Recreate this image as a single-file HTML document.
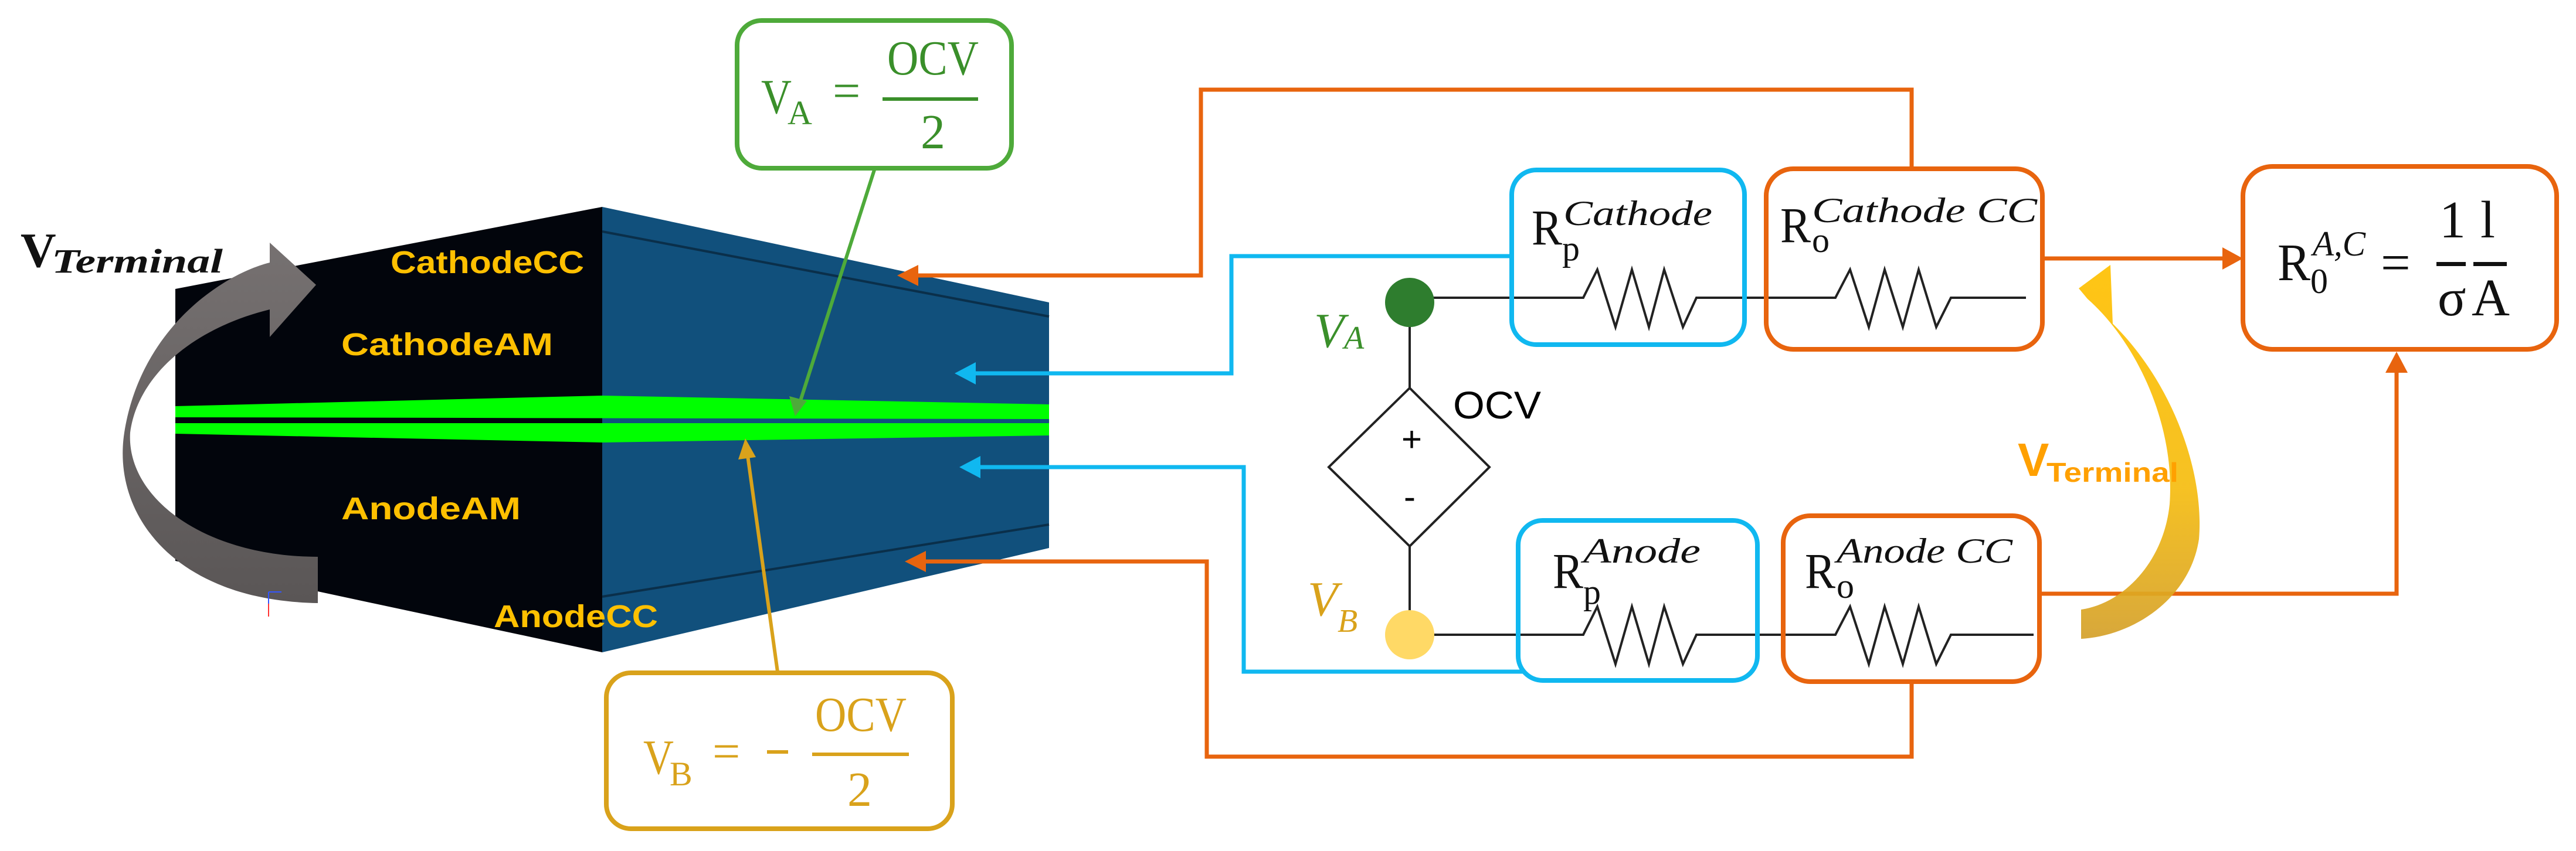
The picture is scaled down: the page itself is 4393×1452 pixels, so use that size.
<!DOCTYPE html>
<html><head><meta charset="utf-8"><style>html,body{margin:0;padding:0;background:#fff}svg{display:block}</style></head>
<body>
<svg xmlns="http://www.w3.org/2000/svg" width="4393" height="1452" viewBox="0 0 4393 1452">
<defs>
<linearGradient id="yg" x1="0" y1="0" x2="0" y2="1"><stop offset="0" stop-color="#FFC000"/><stop offset="0.6" stop-color="#F5BC10"/><stop offset="1" stop-color="#D4A02A"/></linearGradient>
<linearGradient id="gg" x1="0" y1="0" x2="0" y2="1"><stop offset="0" stop-color="#767171"/><stop offset="1" stop-color="#5a5656"/></linearGradient>
</defs>
<!-- battery block -->
<polygon points="299,493 1027,353 1027,1113 299,957" fill="#02050c"/>
<polygon points="1027,353 1789,516 1789,935 1027,1113" fill="#11507c"/>
<line x1="1027" y1="395" x2="1789" y2="540" stroke="#0a2f4a" stroke-width="4"/>
<line x1="1027" y1="1018" x2="1789" y2="895" stroke="#0a2f4a" stroke-width="4"/>
<!-- green separator -->
<polygon points="299,693 1027,675 1789,690 1789,715 299,712" fill="#00FF00"/>
<polygon points="299,722 1789,722 1789,743 1027,755 299,740" fill="#00FF00"/>
<!-- labels -->
<g font-family="Liberation Sans, sans-serif" font-weight="bold" fill="#FFC000" font-size="54">
<text x="666" y="466" textLength="330" lengthAdjust="spacingAndGlyphs">CathodeCC</text>
<text x="582" y="606" textLength="361" lengthAdjust="spacingAndGlyphs">CathodeAM</text>
<text x="582" y="886" textLength="306" lengthAdjust="spacingAndGlyphs">AnodeAM</text>
<text x="842" y="1070" textLength="280" lengthAdjust="spacingAndGlyphs">AnodeCC</text>
</g>
<!-- grey arrow -->
<path d="M542,950 L542,1029 C300,1025 190,880 212,738 C240,560 380,468 460,448 L460,414 L539,486 L460,575 L460,528 C330,560 235,640 222,738 C215,850 350,950 542,950 Z" fill="url(#gg)"/>
<!-- axis mark -->
<path d="M458,1010 L458,1050 M458,1010 L480,1010" stroke="#3355ff" stroke-width="2" fill="none"/>
<line x1="458" y1="1030" x2="458" y2="1052" stroke="#ff3333" stroke-width="2"/>
<!-- V_terminal left -->
<text x="35" y="455" font-family="Liberation Serif, serif" font-weight="bold" font-size="84" fill="#111">V</text>
<text x="88" y="465" font-family="Liberation Serif, serif" font-style="italic" font-weight="bold" font-size="58" fill="#111" textLength="292" lengthAdjust="spacingAndGlyphs">Terminal</text>
<!-- VA box -->
<rect x="1257" y="35" width="468" height="252" rx="42" fill="#fff" stroke="#4EAA3A" stroke-width="8"/>
<g fill="#3A8F2A" font-family="Liberation Serif, serif">
<text x="1298" y="193" font-size="84" textLength="52" lengthAdjust="spacingAndGlyphs">V</text>
<text x="1343" y="212" font-size="58">A</text>
<text x="1420" y="183" font-size="84">=</text>
<text x="1513" y="127" font-size="84" textLength="156" lengthAdjust="spacingAndGlyphs">OCV</text>
<rect x="1505" y="166" width="163" height="6"/>
<text x="1570" y="253" font-size="84">2</text>
</g>
<line x1="1491" y1="290" x2="1363" y2="690" stroke="#4EAA3A" stroke-width="6"/>
<polygon points="1356,710 1346,676 1376,684" fill="#4EAA3A"/>
<!-- VB box -->
<rect x="1034" y="1148" width="590" height="266" rx="42" fill="#fff" stroke="#D9A21B" stroke-width="8"/>
<g fill="#D9A21B" font-family="Liberation Serif, serif">
<text x="1097" y="1320" font-size="84" textLength="52" lengthAdjust="spacingAndGlyphs">V</text>
<text x="1142" y="1340" font-size="58">B</text>
<text x="1215" y="1310" font-size="84">=</text>
<rect x="1308" y="1280" width="36" height="6"/>
<text x="1390" y="1247" font-size="84" textLength="156" lengthAdjust="spacingAndGlyphs">OCV</text>
<rect x="1385" y="1284" width="165" height="6"/>
<text x="1445" y="1375" font-size="84">2</text>
</g>
<line x1="1326" y1="1146" x2="1274" y2="770" stroke="#D9A21B" stroke-width="6"/>
<polygon points="1271,748 1259,784 1289,780" fill="#D9A21B"/>
<!-- orange connector top -->
<polyline points="3260,288 3260,153 2048,153 2048,470 1560,470" fill="none" stroke="#E8640E" stroke-width="7"/>
<polygon points="1530,470 1566,452 1566,488" fill="#E8640E"/>
<!-- blue cathode -->
<polyline points="2582,437 2100,437 2100,637 1660,637" fill="none" stroke="#10B8F0" stroke-width="7"/>
<polygon points="1628,637 1664,618 1664,656" fill="#10B8F0"/>
<!-- blue anode -->
<polyline points="2600,1146 2121,1146 2121,797 1668,797" fill="none" stroke="#10B8F0" stroke-width="7"/>
<polygon points="1636,797 1672,778 1672,816" fill="#10B8F0"/>
<!-- orange anode -->
<polyline points="3260,1163 3260,1291 2058,1291 2058,958 1575,958" fill="none" stroke="#E8640E" stroke-width="7"/>
<polygon points="1543,958 1579,940 1579,976" fill="#E8640E"/>
<!-- circuit wires -->
<g stroke="#222" stroke-width="4" fill="none">
<polyline points="2404,508 2700,508 2724,460 2755,558 2783,460 2812,558 2838,460 2870,558 2893,508 3130,508 3155,460 3187,558 3214,460 3245,558 3272,460 3302,558 3327,508 3455,508"/>
<polyline points="2404,1083 2700,1083 2724,1035 2755,1133 2783,1035 2812,1133 2838,1035 2870,1133 2893,1083 3130,1083 3155,1035 3187,1133 3214,1035 3245,1133 3272,1035 3302,1133 3327,1083 3468,1083"/>
<line x1="2404" y1="516" x2="2404" y2="662"/>
<line x1="2404" y1="932" x2="2404" y2="1083"/>
<polygon points="2404,662 2540,797 2404,932 2266,797" fill="#fff"/>
</g>
<text x="2390" y="770" font-family="Liberation Sans, sans-serif" font-size="60" fill="#000">+</text>
<text x="2394" y="868" font-family="Liberation Sans, sans-serif" font-size="60" fill="#000">-</text>
<text x="2478" y="714" font-family="Liberation Sans, sans-serif" font-size="66" fill="#000" textLength="150" lengthAdjust="spacingAndGlyphs">OCV</text>
<circle cx="2404" cy="516" r="42" fill="#2E7D2E"/>
<circle cx="2404" cy="1083" r="42" fill="#FFD966"/>
<text x="2241" y="592" font-family="Liberation Serif, serif" font-style="italic" font-size="84" fill="#3A8F2A">V</text>
<text x="2292" y="595" font-family="Liberation Serif, serif" font-style="italic" font-size="56" fill="#3A8F2A">A</text>
<text x="2230" y="1050" font-family="Liberation Serif, serif" font-style="italic" font-size="84" fill="#D9A21B">V</text>
<text x="2281" y="1078" font-family="Liberation Serif, serif" font-style="italic" font-size="56" fill="#D9A21B">B</text>
<!-- boxes -->
<g fill="none" stroke-width="8">
<rect x="2578" y="290" width="397" height="298" rx="42" stroke="#10B8F0"/>
<rect x="3012" y="288" width="471" height="308" rx="46" stroke="#E8640E"/>
<rect x="2589" y="888" width="408" height="273" rx="42" stroke="#10B8F0"/>
<rect x="3041" y="880" width="437" height="283" rx="46" stroke="#E8640E"/>
<rect x="3825" y="284" width="535" height="312" rx="50" stroke="#E8640E"/>
</g>
<g font-family="Liberation Serif, serif" fill="#111">
<text x="2612" y="417" font-size="86" textLength="52" lengthAdjust="spacingAndGlyphs">R</text>
<text x="2664" y="444" font-size="60">p</text>
<text x="2666" y="384" font-size="60" font-style="italic" textLength="254" lengthAdjust="spacingAndGlyphs">Cathode</text>
<text x="3036" y="413" font-size="86" textLength="52" lengthAdjust="spacingAndGlyphs">R</text>
<text x="3090" y="430" font-size="60">o</text>
<text x="3090" y="379" font-size="60" font-style="italic" textLength="384" lengthAdjust="spacingAndGlyphs">Cathode CC</text>
<text x="2648" y="1003" font-size="86" textLength="52" lengthAdjust="spacingAndGlyphs">R</text>
<text x="2700" y="1030" font-size="60">p</text>
<text x="2700" y="960" font-size="60" font-style="italic" textLength="200" lengthAdjust="spacingAndGlyphs">Anode</text>
<text x="3078" y="1003" font-size="86" textLength="52" lengthAdjust="spacingAndGlyphs">R</text>
<text x="3132" y="1020" font-size="60">o</text>
<text x="3132" y="960" font-size="60" font-style="italic" textLength="300" lengthAdjust="spacingAndGlyphs">Anode CC</text>
<text x="3884" y="478" font-size="90" textLength="56" lengthAdjust="spacingAndGlyphs">R</text>
<text x="3940" y="500" font-size="60">0</text>
<text x="3944" y="436" font-size="60" font-style="italic" textLength="90" lengthAdjust="spacingAndGlyphs">A,C</text>
<text x="4060" y="478" font-size="90">=</text>
<text x="4160" y="405" font-size="90">1</text>
<text x="4230" y="405" font-size="90">l</text>
<rect x="4155" y="447" width="50" height="7"/>
<rect x="4218" y="447" width="57" height="7"/>
<text x="4157" y="538" font-size="90">σ</text>
<text x="4215" y="538" font-size="90">A</text>
</g>
<!-- orange right connectors -->
<line x1="3483" y1="441" x2="3800" y2="441" stroke="#E8640E" stroke-width="7"/>
<polygon points="3825,441 3790,422 3790,460" fill="#E8640E"/>
<polyline points="3478,1013 4087,1013 4087,630" fill="none" stroke="#E8640E" stroke-width="7"/>
<polygon points="4087,600 4068,636 4106,636" fill="#E8640E"/>
<!-- yellow arrow -->
<path d="M3599,452 L3603,553 L3590,540 C3700,640 3760,800 3750,920 C3735,1020 3640,1085 3549,1090 L3549,1040 C3620,1030 3690,960 3700,860 C3710,720 3640,580 3560,510 L3545,492 Z" fill="url(#yg)" opacity="0.92"/>
<!-- V terminal right -->
<text x="3441" y="812" font-family="Liberation Sans, sans-serif" font-weight="bold" font-size="80" fill="#FFA000">V</text>
<text x="3490" y="822" font-family="Liberation Sans, sans-serif" font-weight="bold" font-size="46" fill="#FFA000" textLength="225" lengthAdjust="spacingAndGlyphs">Terminal</text>
</svg>
</body></html>
